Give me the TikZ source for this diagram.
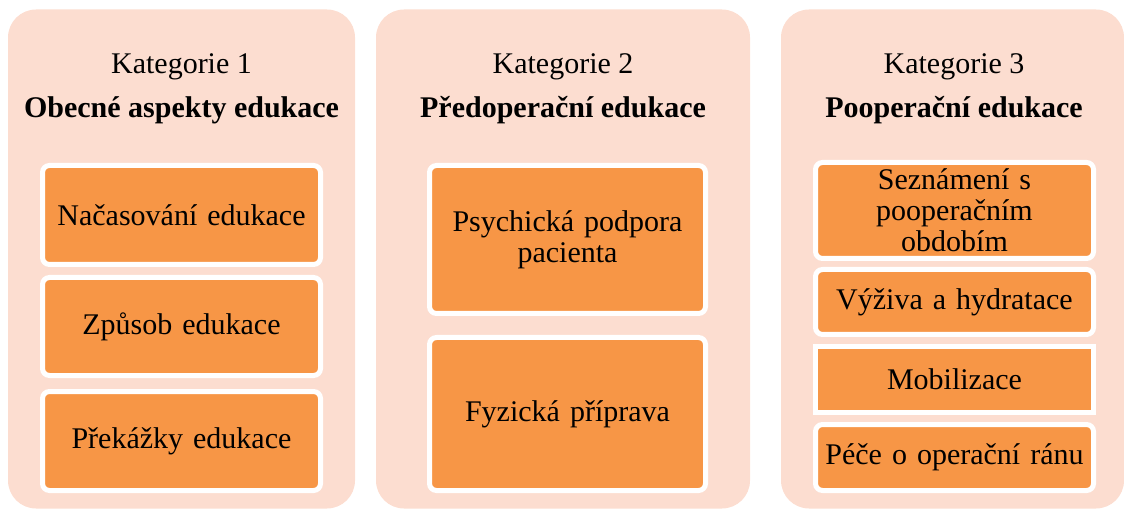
\documentclass[tikz,border=0pt]{standalone}
\usepackage{fontspec}
\setmainfont{Liberation Serif}
\definecolor{panelfill}{HTML}{FCDDD0}
\definecolor{itemfill}{HTML}{F79646}

\begin{document}
\begin{tikzpicture}[x=1pt,y=-1pt,
    panel/.style={fill=panelfill, rounded corners=28pt, inner sep=0pt},
    heading/.style={font=\rmfamily\fontsize{30}{31}\selectfont, inner sep=0pt, anchor=base},
    item/.style={fill=itemfill, draw=white, line width=5pt, rounded corners=7pt,
        inner sep=0pt, align=center, text width=260pt,
        font=\rmfamily\fontsize{30}{31}\selectfont}]
    \useasboundingbox (0,0) rectangle (1124,510);

    % panels
    \node [panel, minimum width=347pt, minimum height=499pt] (kat1) at (181.5,259) {};
    \node [panel, minimum width=374pt, minimum height=499pt] (kat2) at (563,259) {};
    \node [panel, minimum width=343pt, minimum height=499pt] (kat3) at (952.5,259) {};

    % headings
    \node [heading] (num1) at (181.5,74) {Kategorie 1};
    \node [heading] (name1) at (181.5,118) {\textbf{Obecné aspekty edukace}};
    \node [heading] (num2) at (563,74) {Kategorie 2};
    \node [heading] (name2) at (563,118) {\textbf{Předoperační edukace}};
    \node [heading] (num3) at (954,74) {Kategorie 3};
    \node [heading] (name3) at (954,118) {\textbf{Pooperační edukace}};

    % category 1
    \node [item, minimum width=278pt, minimum height=99pt] (timing) at (181.5,215) {Načasování edukace};
    \node [item, minimum width=278pt, minimum height=98pt] (method) at (181.5,326.5) {Způsob edukace};
    \node [item, minimum width=278pt, minimum height=99pt] (barriers) at (181.5,441) {Překážky edukace};

    % category 2
    \node [item, minimum width=276pt, minimum height=148pt] (psych) at (567.5,239.5) {Psychická podpora\\pacienta};
    \node [item, minimum width=276pt, minimum height=153pt] (physical) at (567.5,414) {Fyzická příprava};

    % category 3
    \node [item, minimum width=278pt, minimum height=96pt] (period) at (954.5,210.5) {Seznámení s\\pooperačním\\obdobím};
    \node [item, minimum width=278pt, minimum height=65pt] (nutrition) at (954.5,302) {Výživa a hydratace};
    \node [item, rounded corners=0pt, minimum width=278pt, minimum height=66pt] (mobil) at (954.5,379.5) {Mobilizace};
    \node [item, minimum width=278pt, minimum height=66pt] (wound) at (954.5,457.5) {Péče o operační ránu};
\end{tikzpicture}
\end{document}
